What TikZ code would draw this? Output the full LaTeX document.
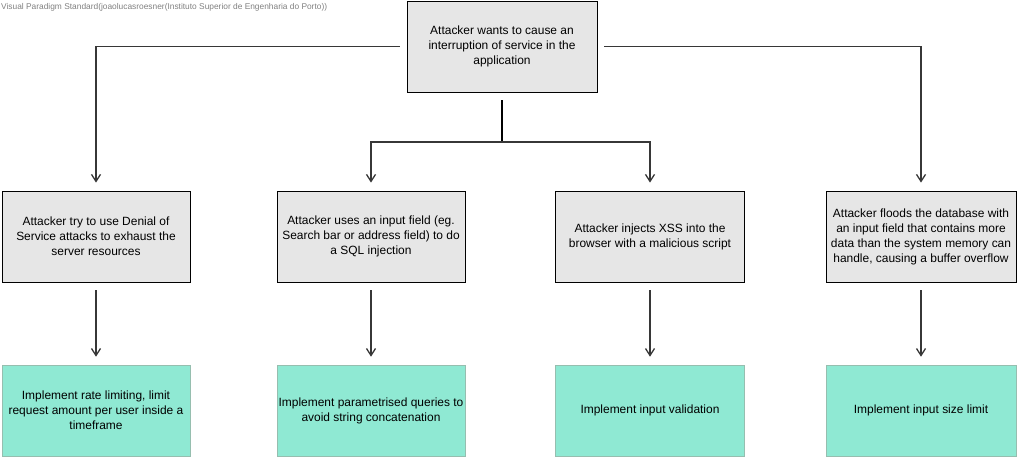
\documentclass[tikz,border=0pt]{standalone}
\usepackage{fontspec}
\setmainfont{Liberation Sans}
\usetikzlibrary{arrows.meta}
\definecolor{attackgrey}{RGB}{230,230,230}
\definecolor{fixgreen}{RGB}{143,233,211}
\definecolor{fixborder}{RGB}{150,190,175}
\definecolor{linegrey}{RGB}{55,55,55}

\begin{document}
\begin{tikzpicture}[x=1bp,y=-1bp,
	attack/.style={draw=black,fill=attackgrey,line width=0.8bp,minimum width=188bp,minimum height=91bp,inner sep=0pt,align=center,font=\fontsize{12}{15}\selectfont},
	fix/.style={draw=fixborder,fill=fixgreen,line width=0.6bp,minimum width=188bp,minimum height=91bp,inner sep=0pt,align=center,font=\fontsize{12}{15}\selectfont},
	link/.style={draw=linegrey,line width=1.3bp,-{Straight Barb[length=7bp,width=9bp]},shorten >=8bp,shorten <=7bp}]
				\useasboundingbox (0,0) rectangle (1018,458);
				\node[anchor=north west,inner sep=0pt,text=gray,font=\fontsize{8.4}{10}\selectfont] (mark) at (1,3.5) {Visual Paradigm Standard(joaolucasroesner(Instituto Superior de Engenharia do Porto))};
				\node[attack,minimum width=190bp] (goal) at (502,46.5) {Attacker wants to cause an\\interruption of service in the\\application};
				\node[attack] (dos) at (96,236.5) {Attacker try to use Denial of\\Service attacks to exhaust the\\server resources};
				\node[attack] (sql) at (371,236.5) {Attacker uses an input field (eg.\\Search bar or address field) to do\\a SQL injection};
				\node[attack,minimum width=189bp] (xss) at (650,236.5) {Attacker injects XSS into the\\browser with a malicious script};
				\node[attack,minimum width=190bp] (flood) at (921,236.5) {Attacker floods the database with\\an input field that contains more\\data than the system memory can\\handle, causing a buffer overflow};
				\node[fix] (rate) at (96,410.5) {Implement rate limiting, limit\\request amount per user inside a\\timeframe};
				\node[fix] (param) at (371,410.5) {Implement parametrised queries to\\avoid string concatenation};
				\node[fix,minimum width=189bp] (valid) at (650,410.5) {Implement input validation};
				\node[fix,minimum width=190bp] (size) at (921,410.5) {Implement input size limit};
				\coordinate (split) at (502,142);
				\draw[link] (goal.west) -| (dos.north);
				\draw[link] (goal.east) -| (flood.north);
				\draw[black,line width=2bp,shorten <=8bp] (goal.south) -- (split);
				\draw[link,shorten <=0pt] (split) -| (sql.north);
				\draw[link,shorten <=0pt] (split) -| (xss.north);
				\draw[link,shorten <=8bp] (dos) -- (rate);
				\draw[link,shorten <=8bp] (sql) -- (param);
				\draw[link,shorten <=8bp] (xss) -- (valid);
				\draw[link,shorten <=8bp] (flood) -- (size);
			\end{tikzpicture}
\end{document}
